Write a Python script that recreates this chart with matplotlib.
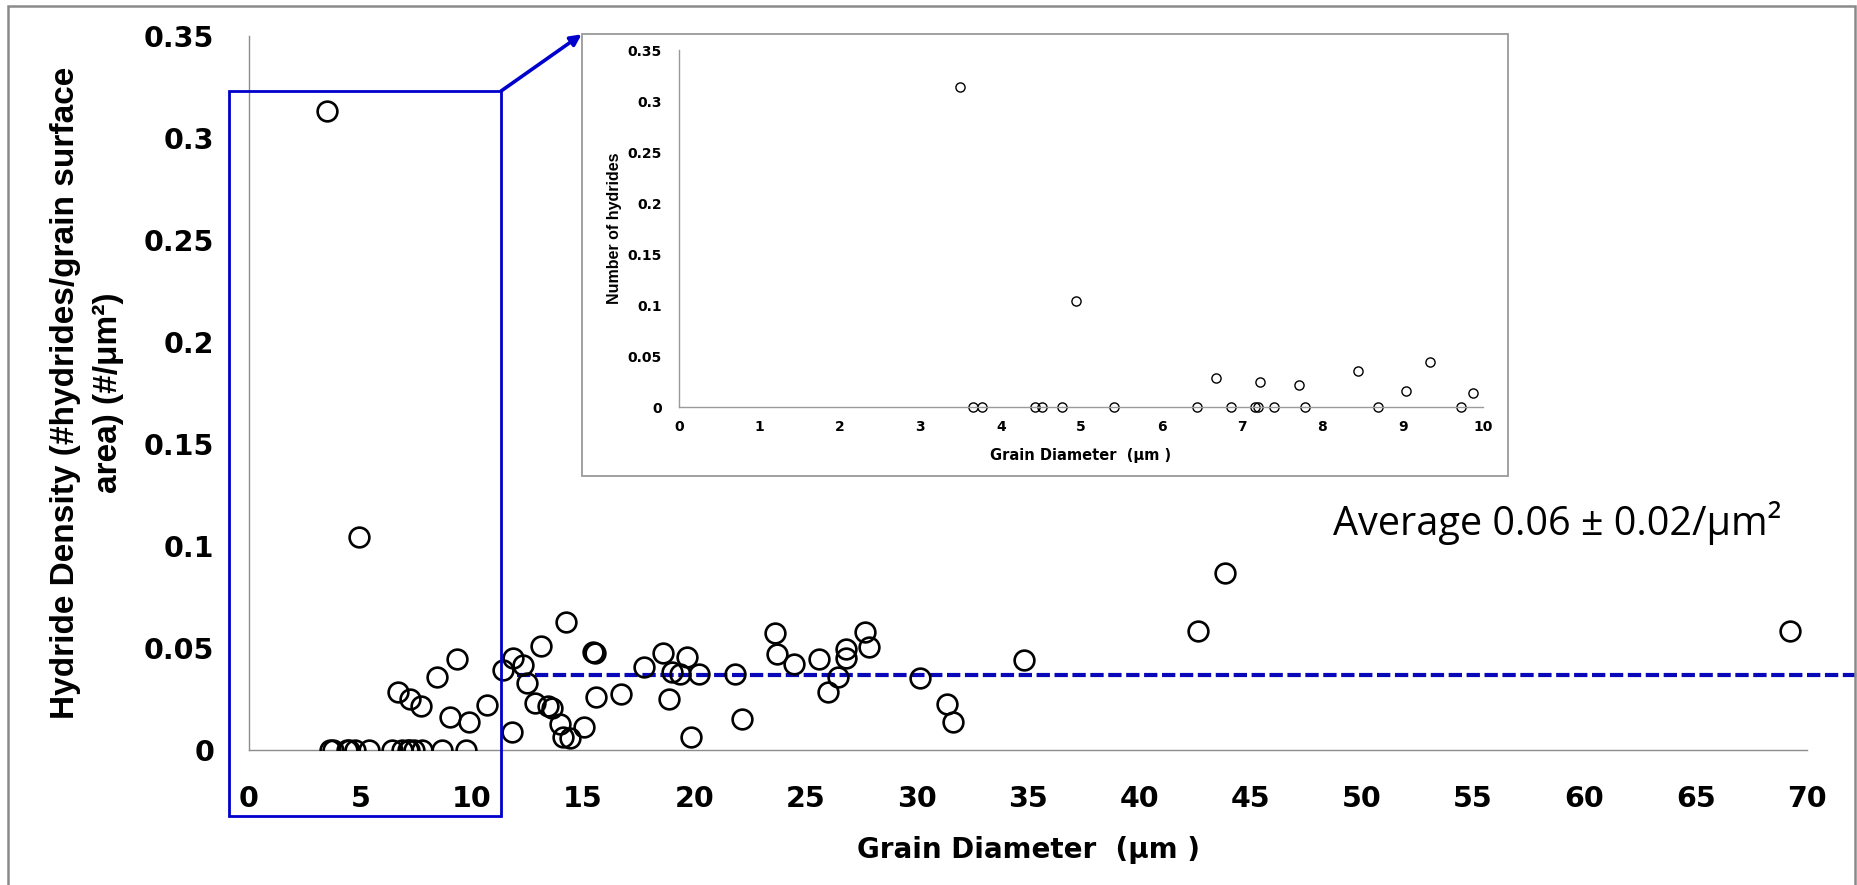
import numpy as np
import matplotlib.pyplot as plt
from matplotlib.patches import Rectangle

plt.rcParams["font.family"] = "DejaVu Sans"
plt.rcParams["font.weight"] = "bold"

# grain diameter (um) / hydride density (#/um^2)
diameter = np.array([
    3.49, 4.93,
    3.65, 3.77, 4.42, 4.51, 4.76, 5.41, 6.44, 6.87, 7.16, 7.20, 7.40, 7.79, 8.69, 9.73,
    6.68, 7.23, 7.71, 8.44, 9.04, 9.34, 9.87,
    10.67, 11.42, 11.87, 12.32, 12.50, 11.81, 13.14, 12.84, 13.44, 13.59,
    13.97, 14.11, 14.41, 14.23, 15.04, 15.46, 15.54, 15.61,
    16.69, 17.74, 18.61, 18.87, 19.02, 19.35, 19.68, 19.85, 20.22, 21.84,
    22.17, 23.62, 23.73, 24.47, 25.61, 26.01, 26.47, 26.81, 26.81, 27.69,
    27.86, 30.13, 31.37, 31.64,
    34.82, 42.62, 43.87, 69.22,
])
density = np.array([
    0.3134, 0.1044,
    0, 0, 0, 0, 0, 0, 0, 0, 0, 0, 0, 0, 0, 0,
    0.0284, 0.0248, 0.0218, 0.0359, 0.0160, 0.0444, 0.0137,
    0.0221, 0.0392, 0.0450, 0.0417, 0.0327, 0.0090, 0.0511, 0.0232, 0.0216, 0.0204,
    0.0130, 0.0065, 0.0057, 0.0629, 0.0114, 0.0482, 0.0474, 0.0261,
    0.0273, 0.0405, 0.0477, 0.0251, 0.0384, 0.0373, 0.0454, 0.0065, 0.0373, 0.0373,
    0.0154, 0.0572, 0.0470, 0.0422, 0.0444, 0.0286, 0.0359, 0.0495, 0.0453, 0.0580,
    0.0503, 0.0351, 0.0224, 0.0136,
    0.0441, 0.0583, 0.0866, 0.0583,
])

main_xticks = np.arange(0, 71, 5)
main_yticks = [0, 0.05, 0.1, 0.15, 0.2, 0.25, 0.3, 0.35]
main_yticklabels = ["0", "0.05", "0.1", "0.15", "0.2", "0.25", "0.3", "0.35"]
inset_xticks = np.arange(0, 11, 1)

avg_level = 0.037          # dashed average line
avg_start = 12.05
avg_text = "Average 0.06 \u00b1 0.02/\u03bcm\u00b2"

zoom_box_x = (-0.91, 11.32)   # blue box around the 0-10 um region
zoom_box_y = (-0.0324, 0.323)

blue = "#0000CD"
dash_blue = "#0808B8"
axis_grey = "#8C8C8C"

fig = plt.figure(figsize=(18.57, 8.85), dpi=100)
ax = fig.add_axes((0.1341, 0.1525, 0.8390, 0.8068))

for side in ["top", "right"]:
    ax.spines[side].set_visible(False)
for side in ["left", "bottom"]:
    ax.spines[side].set_color(axis_grey)
    ax.spines[side].set_linewidth(1.0)

ax.plot(diameter, density, "o", ms=14.2, mfc="none", mec="black", mew=1.9, zorder=3)

ax.set_xlim(0, 70)
ax.set_ylim(0, 0.35)
ax.set_xticks(main_xticks)
ax.set_yticks(main_yticks)
ax.set_yticklabels(main_yticklabels)
ax.tick_params(axis="x", length=0, pad=25, labelsize=20.5)
ax.tick_params(axis="y", length=0, pad=25, labelsize=20.5)

ax.text(0.5, -0.14, "Grain Diameter  (\u03bcm )", transform=ax.transAxes,
        ha="center", va="center", fontsize=20)
ax.text(-0.104, 0.5, "Hydride Density (#hydrides/grain surface\narea) (#/\u03bcm\u00b2)",
        transform=ax.transAxes, ha="center", va="center", rotation=90,
        fontsize=24, family="Liberation Sans", fontweight="bold",
        multialignment="center", linespacing=1.45)

# average line, running off to the right edge
ax.hlines(avg_level, avg_start, 72.5, colors=dash_blue, lw=3.0,
          linestyles=(0, (3.2, 1.1)), clip_on=False, zorder=2)
ax.text(48.7, 0.1055, avg_text, ha="left", va="baseline", fontsize=28.5,
        family="Open Sans", fontweight="normal")

# blue box marking the zoomed range
ax.add_patch(Rectangle((zoom_box_x[0], zoom_box_y[0]),
                       zoom_box_x[1] - zoom_box_x[0], zoom_box_y[1] - zoom_box_y[0],
                       fill=False, ec=blue, lw=2.0, clip_on=False, zorder=4))

# inset frame
frame_l, frame_b, frame_w, frame_h = 0.3132, 0.4621, 0.4990, 0.4991
fig.patches.append(Rectangle((frame_l, frame_b), frame_w, frame_h,
                             transform=fig.transFigure, fc="white",
                             ec="#9A9A9A", lw=1.3, zorder=2))

ax.annotate("", xy=(frame_l, frame_b + frame_h), xycoords="figure fraction",
            xytext=(zoom_box_x[1], zoom_box_y[1]), textcoords="data",
            arrowprops=dict(arrowstyle="-|>", color=blue, lw=2.6,
                            mutation_scale=16, shrinkA=0, shrinkB=0),
            annotation_clip=False)

ax_in = fig.add_axes((0.3658, 0.5398, 0.4328, 0.4037))
ax_in.set_zorder(3)
ax_in.patch.set_visible(False)
for side in ["top", "right"]:
    ax_in.spines[side].set_visible(False)
for side in ["left", "bottom"]:
    ax_in.spines[side].set_color("#9A9A9A")
    ax_in.spines[side].set_linewidth(1.0)

small = diameter <= 10
ax_in.plot(diameter[small], density[small], "o", ms=6.6, mfc="none",
           mec="black", mew=1.0, clip_on=False)
ax_in.set_xlim(0, 10)
ax_in.set_ylim(0, 0.35)
ax_in.set_xticks(inset_xticks)
ax_in.set_yticks(main_yticks)
ax_in.set_yticklabels(main_yticklabels)
ax_in.tick_params(axis="x", length=0, pad=9, labelsize=10)
ax_in.tick_params(axis="y", length=0, pad=12.5, labelsize=10)
ax_in.text(0.499, -0.135, "Grain Diameter  (\u03bcm )", transform=ax_in.transAxes,
           ha="center", va="center", fontsize=10.5)
ax_in.text(-0.08, 0.5, "Number of hydrides", transform=ax_in.transAxes,
           ha="center", va="center", rotation=90, fontsize=11.5,
           family="Liberation Sans", fontweight="bold")

# outer grey border of the slide
fig.patches.append(Rectangle((8 / 1857, -0.05), 1847 / 1857, 1.05 - 6 / 885,
                             transform=fig.transFigure, fill=False,
                             ec="#8A8A8A", lw=1.8, zorder=5))

fig.savefig("out.png", dpi=100)
